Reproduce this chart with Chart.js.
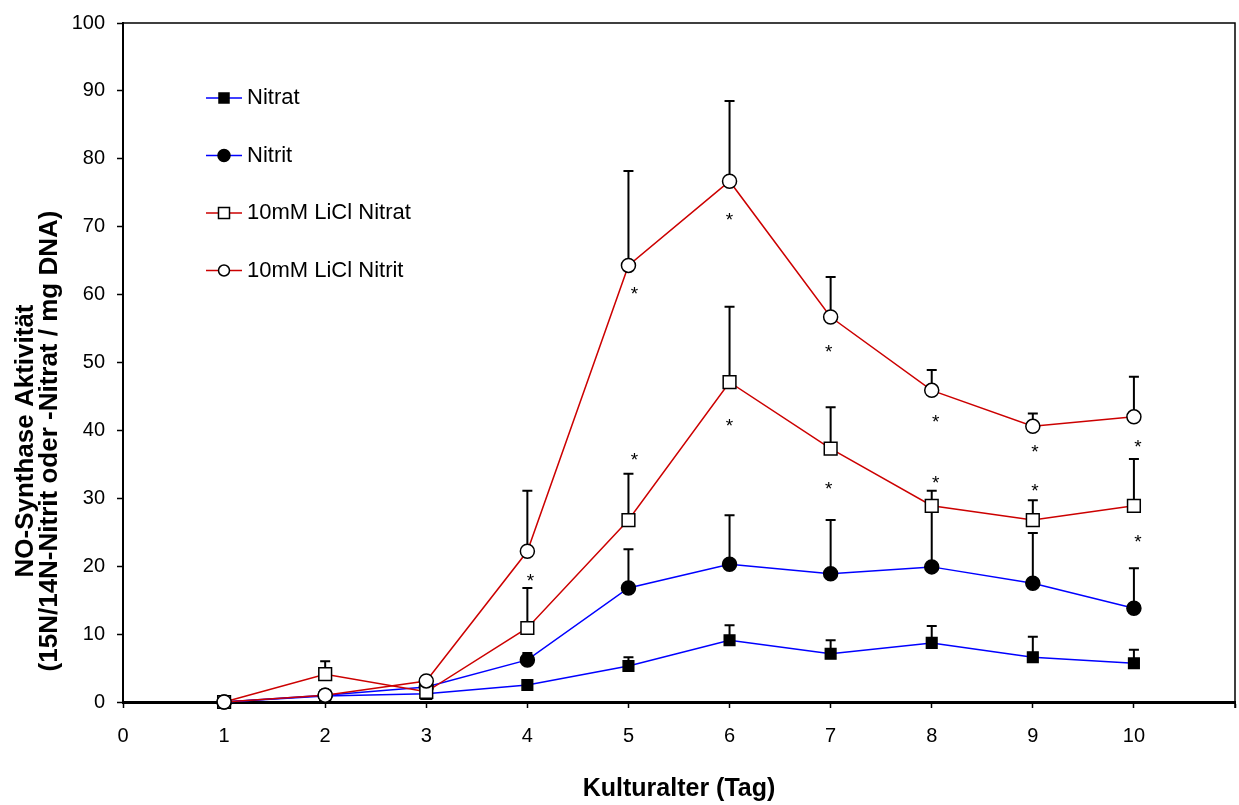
<!DOCTYPE html>
<html lang="de">
<head>
  <meta charset="UTF-8">
  <title>NO-Synthase Aktivität</title>
  <script src="https://cdn.jsdelivr.net/npm/chart.js"></script>
  <style>
    html, body { margin: 0; padding: 0; background: #fff; }
    canvas { display: block; }
  </style>
</head>
<body>
  <canvas id="noChart" width="1239" height="805"></canvas>

  <script>
    // Kulturalter in Tagen
    const days = [1, 2, 3, 4, 5, 6, 7, 8, 9, 10];

    // Mittelwerte
    const nitrat      = [0, 0.9, 1.2, 2.5, 5.3, 9.1, 7.1, 8.7, 6.6, 5.7];
    const nitrit      = [0, 1.0, 2.2, 6.2, 16.8, 20.3, 18.9, 19.9, 17.5, 13.8];
    const liclNitrat  = [0, 4.1, 1.5, 10.9, 26.8, 47.1, 37.3, 28.9, 26.8, 28.9];
    const liclNitrit  = [0, 1.0, 3.1, 22.2, 64.3, 76.7, 56.7, 45.9, 40.6, 42.0];

    // Standardabweichung (nur nach oben gezeichnet)
    const nitratSD     = [null, null, null, null, 1.3, 2.2, 2.0, 2.5, 3.0, 2.0];
    const nitritSD     = [null, null, null, 1.0, 5.7, 7.2, 7.9, 8.1, 7.4, 5.9];
    const liclNitratSD = [null, 1.9, null, 5.9, 6.8, 11.1, 6.1, 2.2, 2.9, 6.9];
    const liclNitritSD = [null, null, null, 8.9, 13.9, 11.8, 5.9, 3.0, 1.9, 5.9];

    // Signifikanz-Sternchen
    const sigX = [4.03, 5.06, 5.06, 6.0, 6.0, 6.98, 6.98, 8.04, 8.04, 9.02, 9.02, 10.04, 10.04];
    const sigY = [18.6, 60.8, 36.4, 71.7, 41.4, 52.3, 32.1, 42.0, 33.0, 37.6, 31.8, 38.3, 24.3];

    const yTicks = [0, 10, 20, 30, 40, 50, 60, 70, 80, 90, 100];
    const xTicks = [0, 1, 2, 3, 4, 5, 6, 7, 8, 9, 10];

    const yTitleLines = ['NO-Synthase Aktivität', '(15N/14N-Nitrit oder -Nitrat / mg DNA)'];
    const xTitle = 'Kulturalter (Tag)';

    const BLUE = '#0000ff';
    const RED = '#cc0000';
    const FONT = '"Liberation Sans", Arial, sans-serif';

    const toPoints = (vals) => vals.map((v, i) => ({ x: days[i], y: v }));

    // error bars, drawn under the lines and markers
    const errorBars = {
      id: 'errorBars',
      beforeDatasetsDraw(chart) {
        const { ctx, scales: { x, y } } = chart;
        ctx.save();
        ctx.strokeStyle = '#000';
        ctx.lineWidth = 2;
        chart.data.datasets.forEach(ds => {
          ds.data.forEach((p, i) => {
            const sd = ds.sd[i];
            if (sd == null) return;
            const px = x.getPixelForValue(p.x);
            const y0 = y.getPixelForValue(p.y);
            const y1 = y.getPixelForValue(p.y + sd);
            ctx.beginPath();
            ctx.moveTo(px, y0);
            ctx.lineTo(px, y1);
            ctx.moveTo(px - 5, y1);
            ctx.lineTo(px + 5, y1);
            ctx.stroke();
          });
        });
        ctx.restore();
      }
    };

    // thin frame top and right
    const frame = {
      id: 'frame',
      beforeDatasetsDraw(chart) {
        const { ctx, chartArea: a } = chart;
        ctx.save();
        ctx.strokeStyle = '#000';
        ctx.lineWidth = 1.5;
        ctx.beginPath();
        ctx.moveTo(a.left, a.top);
        ctx.lineTo(a.right, a.top);
        ctx.lineTo(a.right, a.bottom + 6);
        ctx.stroke();
        ctx.restore();
      }
    };

    const stars = {
      id: 'stars',
      afterDatasetsDraw(chart) {
        const { ctx, scales: { x, y } } = chart;
        ctx.save();
        ctx.font = '19px ' + FONT;
        ctx.fillStyle = '#000';
        ctx.textAlign = 'center';
        ctx.textBaseline = 'alphabetic';
        sigX.forEach((sx, i) => {
          ctx.fillText('*', x.getPixelForValue(sx), y.getPixelForValue(sigY[i]) + 11);
        });
        ctx.restore();
      }
    };

    const yTitle = {
      id: 'yTitle',
      afterDraw(chart) {
        const { ctx } = chart;
        ctx.save();
        ctx.font = 'bold 26px ' + FONT;
        ctx.fillStyle = '#000';
        ctx.textAlign = 'center';
        ctx.textBaseline = 'alphabetic';
        yTitleLines.forEach((t, i) => {
          ctx.save();
          ctx.translate(33 + i * 24, 441);
          ctx.rotate(-Math.PI / 2);
          ctx.fillText(t, 0, 0);
          ctx.restore();
        });
        ctx.restore();
      }
    };

    // legend inside the plot, upper left
    const innerLegend = {
      id: 'innerLegend',
      afterDraw(chart) {
        const { ctx, chartArea: a } = chart;
        ctx.save();
        ctx.font = '22px ' + FONT;
        chart.data.datasets.forEach((ds, i) => {
          const y = a.top + 75 + i * 57.5;
          const x0 = a.left + 83, xm = a.left + 101, x1 = a.left + 119;
          ctx.strokeStyle = ds.borderColor;
          ctx.lineWidth = 1.5;
          ctx.beginPath();
          ctx.moveTo(x0, y);
          ctx.lineTo(x1, y);
          ctx.stroke();
          ctx.fillStyle = ds.pointBackgroundColor;
          ctx.strokeStyle = '#000';
          ctx.beginPath();
          if (ds.pointStyle === 'rect') {
            const h = ds.legendSize;
            ctx.rect(xm - h, y - h, 2 * h, 2 * h);
          } else {
            ctx.arc(xm, y, ds.legendSize, 0, Math.PI * 2);
          }
          ctx.fill();
          ctx.stroke();
          ctx.fillStyle = '#000';
          ctx.textAlign = 'left';
          ctx.textBaseline = 'middle';
          ctx.fillText(ds.label, a.left + 124, y);
        });
        ctx.restore();
      }
    };

    Chart.defaults.font.family = FONT;
    Chart.defaults.color = '#000';

    const makeSet = (label, vals, sd, color, style, fill, radius, legendSize, order) => ({
      label: label,
      data: toPoints(vals),
      sd: sd,
      borderColor: color,
      borderWidth: 1.5,
      pointStyle: style,
      pointRadius: radius,
      pointHoverRadius: radius,
      pointBackgroundColor: fill,
      pointBorderColor: '#000',
      pointBorderWidth: 1.5,
      legendSize: legendSize,
      tension: 0,
      clip: false,
      order: order
    });

    new Chart(document.getElementById('noChart'), {
      type: 'line',
      data: {
        datasets: [
          makeSet('Nitrat', nitrat, nitratSD, BLUE, 'rect', '#000', 7.5, 5, 4),
          makeSet('Nitrit', nitrit, nitritSD, BLUE, 'circle', '#000', 7, 6, 3),
          makeSet('10mM LiCl Nitrat', liclNitrat, liclNitratSD, RED, 'rect', '#fff', 9, 5.5, 2),
          makeSet('10mM LiCl Nitrit', liclNitrit, liclNitritSD, RED, 'circle', '#fff', 7, 5.5, 1)
        ]
      },
      options: {
        responsive: false,
        animation: false,
        layout: { autoPadding: false, padding: { top: 23, right: 4, bottom: 0, left: 0 } },
        plugins: {
          legend: { display: false },
          tooltip: { enabled: false }
        },
        scales: {
          x: {
            type: 'linear',
            min: 0,
            max: 11,
            afterFit: (s) => { s.height = 103; s.paddingLeft = 0; s.paddingRight = 0; },
            afterBuildTicks: (s) => { s.ticks = xTicks.concat([11]).map(v => ({ value: v })); },
            ticks: {
              autoSkip: false,
              maxRotation: 0,
              padding: 16,
              font: { size: 20 },
              callback: (v) => (xTicks.includes(v) ? v : '')
            },
            grid: { drawOnChartArea: false, drawTicks: true, tickLength: 6, tickWidth: 1.5, tickColor: '#000' },
            border: { display: true, color: '#000', width: 3 },
            title: {
              display: true,
              text: xTitle,
              font: { size: 25, weight: 'bold' },
              padding: { top: 0, bottom: 1 }
            }
          },
          y: {
            min: 0,
            max: 100,
            afterFit: (s) => { s.width = 123; s.paddingTop = 0; s.paddingBottom = 0; },
            afterBuildTicks: (s) => { s.ticks = yTicks.map(v => ({ value: v })); },
            ticks: { padding: 12, font: { size: 20 } },
            grid: { drawOnChartArea: false, drawTicks: true, tickLength: 6, tickWidth: 1.5, tickColor: '#000' },
            border: { display: true, color: '#000', width: 2 }
          }
        }
      },
      plugins: [frame, errorBars, stars, yTitle, innerLegend]
    });
  </script>
</body>
</html>
